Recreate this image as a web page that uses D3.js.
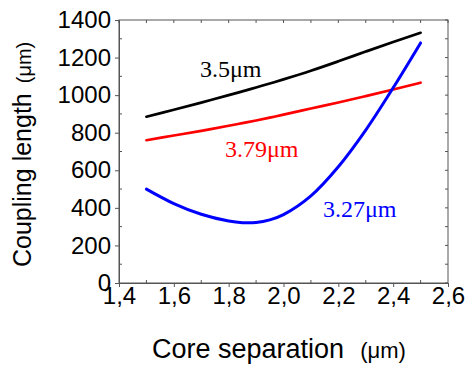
<!DOCTYPE html>
<html>
<head>
<meta charset="utf-8">
<script src="https://cdn.jsdelivr.net/npm/d3@7"></script>
<style>
  html, body { margin: 0; padding: 0; background: #fff; }
  svg { display: block; }
</style>
</head>
<body>
<svg id="chart" width="468" height="365"></svg>
<script>
// ---- data ----
const separation = [1.5, 1.6, 1.7, 1.8, 1.85, 1.9, 1.95, 2.0, 2.1, 2.2, 2.3, 2.4, 2.5];
const len35  = [885, 922, 960, 1000, 1020, 1041, 1062, 1084, 1130, 1180, 1232, 1283, 1332];
const len379 = [760, 785, 810, 837, 851, 865, 880, 896, 929, 961, 995, 1030, 1066];
const len327 = [500, 423, 366, 330, 321, 322, 336, 364, 464, 619, 814, 1039, 1278];
const seriesNames  = ["3.5\u03bcm", "3.79\u03bcm", "3.27\u03bcm"];
const seriesColors = ["#000000", "#ff0000", "#0000ff"];
const xTicks = [1.4, 1.6, 1.8, 2.0, 2.2, 2.4, 2.6];
const xTickLabels = ["1,4", "1,6", "1,8", "2,0", "2,2", "2,4", "2,6"];
const yTicks = [0, 200, 400, 600, 800, 1000, 1200, 1400];

// ---- layout ----
const svg = d3.select("#chart");
const L = 119, R = 448, T = 20, B = 283;
const x = d3.scaleLinear().domain([1.4, 2.6]).range([L, R]);
const y = d3.scaleLinear().domain([0, 1400]).range([B, T]);
const frameColor = "#555";

// frame
svg.append("rect").attr("x", L).attr("y", T).attr("width", R - L).attr("height", B - T)
  .attr("fill", "none").attr("stroke", frameColor).attr("stroke-width", 1);

const xMinor = d3.range(1.5, 2.6, 0.2).map(v => +v.toFixed(2));
const xAll = d3.range(1.4, 2.61, 0.1).map(v => +v.toFixed(2));
const yMinor = d3.range(100, 1400, 200);
const yAll = d3.range(0, 1401, 100);

// bottom axis
const gx = svg.append("g").attr("transform", `translate(0,${B})`)
  .call(d3.axisBottom(x).tickValues(xTicks).tickFormat((d, i) => xTickLabels[i]).tickSize(4).tickPadding(0));
gx.select(".domain").attr("stroke", frameColor);
gx.selectAll(".tick line").attr("stroke", frameColor);
gx.selectAll("text").attr("font-family", "Liberation Sans, Arial, sans-serif").attr("font-size", 24).attr("fill", "#000");
svg.append("g").selectAll("line").data(xMinor).join("line")
  .attr("x1", d => x(d)).attr("x2", d => x(d)).attr("y1", B).attr("y2", B - 3)
  .attr("stroke", frameColor);

// left axis
const gy = svg.append("g").attr("transform", `translate(${L},0)`)
  .call(d3.axisLeft(y).tickValues(yTicks).tickFormat(d3.format("d")).tickSize(4).tickPadding(4));
gy.select(".domain").attr("stroke", frameColor);
gy.selectAll(".tick line").attr("stroke", frameColor);
gy.selectAll("text").attr("font-family", "Liberation Sans, Arial, sans-serif").attr("font-size", 24).attr("fill", "#000");
svg.append("g").selectAll("line").data(yMinor).join("line")
  .attr("x1", L).attr("x2", L + 3).attr("y1", d => y(d)).attr("y2", d => y(d))
  .attr("stroke", frameColor);

// top & right mirror ticks
svg.append("g").selectAll("line").data(xAll).join("line")
  .attr("x1", d => x(d)).attr("x2", d => x(d)).attr("y1", T).attr("y2", T + 3)
  .attr("stroke", frameColor);
svg.append("g").selectAll("line").data(yAll).join("line")
  .attr("x1", R).attr("x2", R - 3).attr("y1", d => y(d)).attr("y2", d => y(d))
  .attr("stroke", frameColor);

// axis titles
const xt = svg.append("text").attr("x", 152).attr("y", 358)
  .attr("font-family", "Liberation Sans, Arial, sans-serif").attr("fill", "#000");
xt.append("tspan").attr("font-size", 27).text("Core separation");
xt.append("tspan").attr("font-size", 22).attr("dx", 16).text("(\u03bcm)");

const yt = svg.append("text").attr("transform", "translate(31,267) rotate(-90)")
  .attr("font-family", "Liberation Sans, Arial, sans-serif").attr("fill", "#000");
yt.append("tspan").attr("font-size", 25).text("Coupling length");
yt.append("tspan").attr("font-size", 20).attr("dx", 10).text("(\u03bcm)");

// lines
const line = d3.line().x(d => x(d[0])).y(d => y(d[1])).curve(d3.curveCatmullRom.alpha(0.5));
const allSeries = [len35, len379, len327];
allSeries.forEach((vals, i) => {
  svg.append("path")
    .datum(separation.map((s, j) => [s, vals[j]]))
    .attr("d", line).attr("fill", "none")
    .attr("stroke", seriesColors[i]).attr("stroke-width", i === 2 ? 3 : 2.7)
    .attr("stroke-linecap", "round");
});

// series labels
const labelPos = [[200, 77], [225, 157], [323, 217]];
seriesNames.forEach((n, i) => {
  svg.append("text").attr("x", labelPos[i][0]).attr("y", labelPos[i][1])
    .attr("font-family", "Liberation Serif, Times New Roman, serif")
    .attr("font-size", 24).attr("fill", seriesColors[i]).text(n);
});
</script>
</body>
</html>
